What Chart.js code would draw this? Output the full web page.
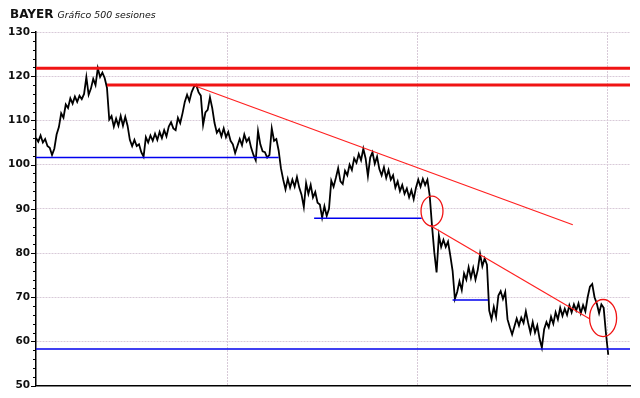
<!DOCTYPE html>
<html>
<head>
<meta charset="utf-8">
<script src="https://cdn.jsdelivr.net/npm/chart.js@4.4.0/dist/chart.umd.min.js"></script>
<style>
  body { margin: 0; background: #fff; }
  #wrap { position: relative; width: 640px; height: 398px; }
  #title { position: absolute; left: 10px; top: 3px; font-family: "DejaVu Sans", sans-serif; color: #111; white-space: nowrap; }
  #title b { font-size: 12px; }
  #title i { font-size: 9.4px; margin-left: 4px; }
</style>
</head>
<body>
<div id="wrap">
  <canvas id="myChart" width="640" height="398"></canvas>
  <div id="title"><b>BAYER</b><i>Gráfico 500 sesiones</i></div>
</div>
<script>
// price every 2 sessions (session = index * 2)
const prices = [
  106, 105.2, 106.6, 105, 105.8, 104.2, 103.8, 102.2, 103.6, 106.8,
  108.5, 111.6, 110.6, 113.6, 112.8, 115, 113.8, 115.4, 114.2, 115.6,
  114.8, 116, 119.8, 115.8, 117.2, 119.4, 118, 121.8, 119.8, 120.8,
  119.6, 117.4, 110.2, 111, 108.6, 110.4, 108.8, 111, 108.8, 110.8,
  108.8, 105.6, 104.2, 105.6, 104.2, 104.6, 102.8, 101.8, 106.2, 105,
  106.6, 105.4, 107, 105.6, 107.4, 106, 107.8, 106.4, 108.6, 109.6,
  108.2, 107.8, 110.6, 109.4, 111.6, 114.2, 115.8, 114.4, 116.4, 117.6,
  118, 116.4, 115.6, 109, 111.8, 112.4, 115.2, 112.8, 109.4, 107.2,
  108, 106.4, 108.2, 106.2, 107.4, 105.4, 104.6, 102.6, 104.2, 105.8,
  104.4, 106.8, 105.2, 106, 103.8, 102.2, 101, 107.6, 104.6, 103,
  102.8, 101.6, 102.2, 108.2, 105.4, 105.8, 103.2, 99.2, 96.6, 94.4,
  96.8, 94.8, 96.6, 95, 97.2, 94.8, 93.2, 90.4, 95.8, 93.4,
  95.4, 92.6, 93.8, 91.4, 91, 88, 90.6, 88.4, 90, 96.4,
  95, 97, 99.2, 96.2, 95.6, 98.6, 97.6, 100, 98.8, 101.4,
  100.4, 102.4, 101, 103.6, 101.4, 97.4, 101.6, 102.8, 100.2, 101.8,
  99, 97.6, 99.4, 97, 98.8, 96.6, 97.6, 94.8, 96.2, 94,
  95.4, 93.4, 94.6, 92.6, 94.2, 92.2, 94.8, 96.6, 95, 96.8,
  95.4, 96.6, 93, 86.2, 80.2, 75.6, 84, 81.4, 83, 81.4,
  82.6, 79.4, 76, 69.6, 71.2, 73.6, 71.6, 75.4, 74, 76.8,
  74.4, 76.6, 74, 76.2, 79.8, 77, 78.8, 77.4, 67, 65,
  67.8, 65.6, 70.4, 71.4, 69.6, 71.2, 65, 63.2, 61.6, 63.4,
  65.2, 63.6, 65.4, 64.2, 66.8, 64.2, 62, 64.4, 62, 63.6,
  60.6, 58.6, 62.8, 64.4, 63.2, 65.6, 64, 66.6, 65, 67.6,
  65.8, 67.4, 66, 68.2, 66.6, 68.4, 67, 68.6, 66.4, 68.2,
  66.8, 70, 72.4, 73, 70, 68.6, 66.4, 68.4, 67.6, 61.8, 57
];

// thick red resistance levels: [fromSession, toSession, value]
const resistances = [[0, 519, 121.8], [62, 519, 118]];
// blue supports: [fromSession, toSession, value]
const supports = [[0, 212, 101.6], [243, 337, 87.9], [364, 395, 69.4], [0, 519, 58.3]];
// red trend lines: [x1, y1, x2, y2]
const trendLines = [[139, 117.8, 469, 86.4], [344, 86.3, 484, 65.1]];
// red circles: [centerSession, centerValue, radiusSessions, radiusValue]
const circles = [[346, 89.5, 9.6, 3.4], [495.5, 65.3, 11.8, 4.2]];
// vertical grid positions (sessions)
const gridSessions = [167, 333, 499];

const datasets = [];

resistances.forEach(function(r) {
  datasets.push({
    data: [{x: r[0], y: r[2]}, {x: r[1], y: r[2]}],
    borderColor: '#f01414', borderWidth: 3, pointRadius: 0
  });
});
supports.forEach(function(s) {
  datasets.push({
    data: [{x: s[0], y: s[2]}, {x: s[1], y: s[2]}],
    borderColor: '#0000ee', borderWidth: 1.5, pointRadius: 0
  });
});
trendLines.forEach(function(t) {
  datasets.push({
    data: [{x: t[0], y: t[1]}, {x: t[2], y: t[3]}],
    borderColor: '#ff2020', borderWidth: 1.2, pointRadius: 0
  });
});
datasets.push({
  data: prices.map(function(p, i) { return {x: i * 2, y: p}; }),
  borderColor: '#000', borderWidth: 1.8, pointRadius: 0, tension: 0
});

// ellipses and small y-axis ticks
const extras = {
  id: 'extras',
  afterDatasetsDraw: function(chart) {
    const ctx = chart.ctx, xs = chart.scales.x, ys = chart.scales.y;
    ctx.save();
    ctx.strokeStyle = '#f01414';
    ctx.lineWidth = 1.3;
    circles.forEach(function(c) {
      const cx = xs.getPixelForValue(c[0]), cy = ys.getPixelForValue(c[1]);
      const rx = xs.getPixelForValue(c[0] + c[2]) - cx;
      const ry = cy - ys.getPixelForValue(c[1] + c[3]);
      ctx.beginPath();
      ctx.ellipse(cx, cy, rx, ry, 0, 0, Math.PI * 2);
      ctx.stroke();
    });
    ctx.strokeStyle = '#000';
    ctx.lineWidth = 1;
    const left = chart.chartArea.left;
    for (let v = 50; v <= 130; v += 2) {
      const y = Math.round(ys.getPixelForValue(v)) + 0.5;
      const len = v % 10 === 0 ? 5 : 3;
      ctx.beginPath();
      ctx.moveTo(left - len, y);
      ctx.lineTo(left, y);
      ctx.stroke();
    }
    ctx.restore();
  }
};

new Chart(document.getElementById('myChart'), {
  type: 'line',
  data: { datasets: datasets },
  plugins: [extras],
  options: {
    responsive: false,
    animation: false,
    layout: { padding: { top: 32, right: 10, bottom: 11, left: 0 } },
    plugins: { legend: { display: false }, tooltip: { enabled: false } },
    scales: {
      x: {
        type: 'linear', min: 0, max: 519,
        afterBuildTicks: function(scale) {
          scale.ticks = gridSessions.map(function(v) { return {value: v}; });
        },
        ticks: { display: false },
        grid: { color: '#d8cad8', lineWidth: 1, drawTicks: false },
        border: { display: true, color: '#000', width: 1.5, dash: [2, 1] }
      },
      y: {
        min: 50, max: 130,
        afterFit: function(scale) { scale.width = 36; },
        ticks: {
          stepSize: 10, padding: 6, color: '#111',
          font: { family: 'DejaVu Sans', size: 10.5, weight: 'bold' }
        },
        grid: { color: '#d8cad8', lineWidth: 1, drawTicks: false },
        border: { display: true, color: '#000', width: 1.5, dash: [2, 1] }
      }
    }
  }
});
</script>
</body>
</html>
